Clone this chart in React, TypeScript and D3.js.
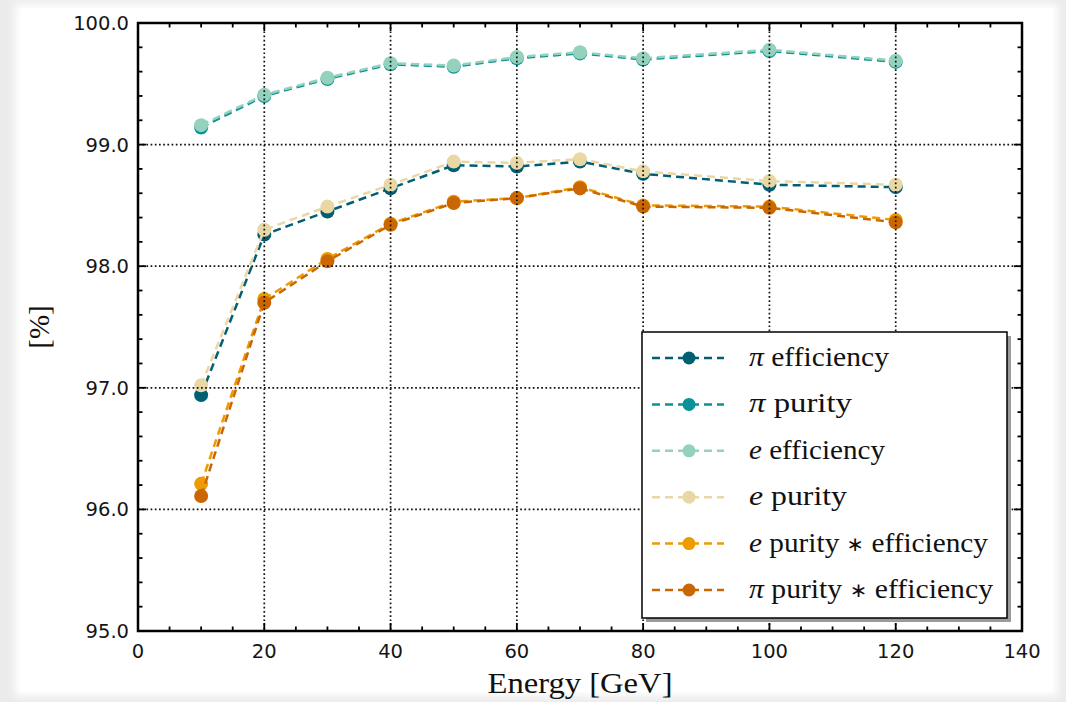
import React from 'react';
import * as d3 from 'd3';

const energies = [10, 20, 30, 40, 50, 60, 70, 80, 100, 120];
const piEfficiency = [96.94, 98.26, 98.45, 98.64, 98.83, 98.82, 98.86, 98.76, 98.67, 98.65];
const piPurity = [99.14, 99.4, 99.54, 99.66, 99.64, 99.71, 99.75, 99.7, 99.77, 99.68];
const eEfficiency = [99.16, 99.41, 99.55, 99.67, 99.65, 99.72, 99.76, 99.71, 99.78, 99.69];
const ePurity = [97.02, 98.3, 98.49, 98.67, 98.86, 98.85, 98.88, 98.78, 98.7, 98.67];
const ePurityEff = [96.21, 97.73, 98.06, 98.35, 98.53, 98.56, 98.65, 98.5, 98.49, 98.38];
const piPurityEff = [96.11, 97.7, 98.04, 98.34, 98.52, 98.56, 98.64, 98.49, 98.48, 98.36];

const seriesSymbols = ['π', 'π', 'e', 'e', 'e', 'π'];
const seriesWords = ['efficiency', 'purity', 'efficiency', 'purity', 'purity ∗ efficiency', 'purity ∗ efficiency'];
const seriesColors = ['#005f73', '#0a9396', '#94d2bd', '#e9d8a6', '#ee9b00', '#ca6702'];
const seriesValues = [piEfficiency, piPurity, eEfficiency, ePurity, ePurityEff, piPurityEff];

const xTicks = [0, 20, 40, 60, 80, 100, 120, 140];
const xMinorTicks = d3.range(0, 141, 5);
const yTicks = [95, 96, 97, 98, 99, 100];
const yMinorTicks = d3.range(95, 100.001, 0.2);

const W = 1066;
const H = 702;
const M = { left: 138, right: 1022, top: 23, bottom: 631 };

const SERIF = "'Liberation Serif', 'Times New Roman', serif";

export default function App() {
  const x = d3.scaleLinear().domain([0, 140]).range([M.left, M.right]);
  const y = d3.scaleLinear().domain([95, 100]).range([M.bottom, M.top]);
  const line = d3
    .line<[number, number]>()
    .x((d) => x(d[0]))
    .y((d) => y(d[1]));

  const legendX = 642;
  const legendY = 332;
  const legendW = 365;
  const legendH = 286;
  const rowY = (i: number) => 358 + i * 46.4;
  const legendWidths = [140, 103, 136, 98, 239, 244];

  const tickFont = { fontFamily: 'DejaVu Sans', fontSize: 19.5, fill: '#151515' };

  const renderWords = (w: string) => {
    const parts = w.split('∗');
    if (parts.length === 1) return <tspan>{' ' + w}</tspan>;
    return (
      <>
        <tspan>{' ' + parts[0]}</tspan>
        <tspan fontFamily="DejaVu Sans" fontSize={20} dy={-1}>∗</tspan>
        <tspan dy={1}>{parts[1]}</tspan>
      </>
    );
  };

  return (
    <svg
      width={W}
      height={H}
      style={{ position: 'absolute', left: 0, top: 0, display: 'block' }}
      xmlns="http://www.w3.org/2000/svg"
    >
      <defs>
        <filter id="soft" x="-5%" y="-5%" width="110%" height="110%">
          <feGaussianBlur stdDeviation="4" />
        </filter>
      </defs>
      <rect x={0} y={0} width={W} height={H} fill="#ebebeb" />
      <rect x={15} y={4} width={1043} height={692} fill="#ffffff" filter="url(#soft)" />
      <rect x={20} y={8} width={1033} height={684} fill="#ffffff" />

      {/* data */}
      <g>
        {seriesValues.map((vals, si) => {
          const pts = energies.map((e, i) => [e, vals[i]] as [number, number]);
          return (
            <g key={si}>
              <path
                d={line(pts) || ''}
                fill="none"
                stroke={seriesColors[si]}
                strokeWidth={2.5}
                strokeDasharray="8,5"
              />
              {pts.map((p, i) => (
                <circle key={i} cx={x(p[0])} cy={y(p[1])} r={7} fill={seriesColors[si]} />
              ))}
            </g>
          );
        })}
      </g>

      {/* grid (drawn above data) */}
      <g stroke="#111" strokeWidth={1.7} strokeDasharray="1.7,2.5">
        {xTicks
          .filter((t) => t > 0 && t < 140)
          .map((t) => (
            <line key={'gx' + t} x1={x(t)} x2={x(t)} y1={M.top} y2={M.bottom} />
          ))}
        {yTicks
          .filter((t) => t > 95 && t < 100)
          .map((t) => (
            <line key={'gy' + t} x1={M.left} x2={M.right} y1={y(t)} y2={y(t)} />
          ))}
      </g>

      {/* ticks */}
      <g stroke="#000" strokeWidth={1.8}>
        {xMinorTicks.map((t) => (
          <g key={'xm' + t}>
            <line x1={x(t)} x2={x(t)} y1={M.bottom} y2={M.bottom - (t % 20 === 0 ? 8 : 4.5)} />
            <line x1={x(t)} x2={x(t)} y1={M.top} y2={M.top + (t % 20 === 0 ? 8 : 4.5)} />
          </g>
        ))}
        {yMinorTicks.map((t, i) => (
          <g key={'ym' + i}>
            <line x1={M.left} x2={M.left + (i % 5 === 0 ? 8 : 4.5)} y1={y(t)} y2={y(t)} />
            <line x1={M.right} x2={M.right - (i % 5 === 0 ? 8 : 4.5)} y1={y(t)} y2={y(t)} />
          </g>
        ))}
      </g>

      {/* spines */}
      <rect
        x={M.left}
        y={M.top}
        width={M.right - M.left}
        height={M.bottom - M.top}
        fill="none"
        stroke="#000"
        strokeWidth={2.5}
      />

      {/* tick labels */}
      {xTicks.map((t) => (
        <text key={'xl' + t} x={x(t)} y={M.bottom + 27} textAnchor="middle" {...tickFont}>
          {t}
        </text>
      ))}
      {yTicks.map((t) => (
        <text key={'yl' + t} x={M.left - 9} y={y(t) + 7} textAnchor="end" {...tickFont}>
          {t.toFixed(1)}
        </text>
      ))}

      {/* axis titles */}
      <text
        x={(M.left + M.right) / 2}
        y={693}
        textAnchor="middle"
        fontFamily={SERIF}
        fontSize={29}
        fill="#111"
        textLength={185}
        lengthAdjust="spacingAndGlyphs"
      >
        Energy [GeV]
      </text>
      <text
        transform={`translate(49,${(M.top + M.bottom) / 2}) rotate(-90)`}
        textAnchor="middle"
        fontFamily={SERIF}
        fontSize={29}
        fill="#111"
      >
        [%]
      </text>

      {/* legend */}
      <rect x={legendX + 4} y={legendY + 4} width={legendW} height={legendH} fill="#9a9a9a" />
      <rect
        x={legendX}
        y={legendY}
        width={legendW}
        height={legendH}
        fill="#ffffff"
        stroke="#000"
        strokeWidth={1.5}
      />
      {seriesSymbols.map((sym, i) => {
        const cy = rowY(i);
        return (
          <g key={'lg' + i}>
            <line
              x1={652}
              x2={724}
              y1={cy}
              y2={cy}
              stroke={seriesColors[i]}
              strokeWidth={2.5}
              strokeDasharray="8,5"
            />
            <circle cx={689} cy={cy} r={6.5} fill={seriesColors[i]} />
            <text
              x={749}
              y={cy + 8}
              fontFamily={SERIF}
              fontSize={28}
              fill="#111"
              textLength={legendWidths[i]}
              lengthAdjust="spacingAndGlyphs"
            >
              <tspan fontStyle="italic">{sym}</tspan>
              {renderWords(seriesWords[i])}
            </text>
          </g>
        );
      })}
    </svg>
  );
}
